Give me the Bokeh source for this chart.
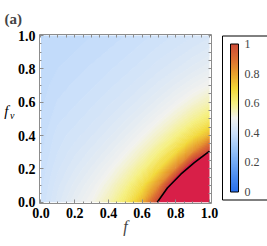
import numpy as np
from bokeh.plotting import figure
from bokeh.models import (LinearColorMapper, ColorBar, FixedTicker, Range1d,
                          LinearAxis, PrintfTickFormatter)
from bokeh.embed import file_html
from bokeh.resources import INLINE

# ---------------- data ----------------
F_GRID = [0.0, 0.1, 0.2, 0.3, 0.4, 0.5, 0.6, 0.7, 0.8, 0.9, 1.0]
FV_GRID = [0.0, 0.1, 0.2, 0.3, 0.4, 0.5, 0.6, 0.7, 0.8, 0.9, 1.0]
# rows: fv = 0.0 ... 1.0 ; columns: f = 0.0 ... 1.0 (values > 1 are clipped to red)
FIELD = [
    [0.400, 0.435, 0.469, 0.502, 0.553, 0.631, 0.767, 1.038, 1.300, 1.300, 1.300],
    [0.396, 0.427, 0.454, 0.482, 0.521, 0.580, 0.674, 0.839, 1.173, 1.300, 1.300],
    [0.392, 0.418, 0.439, 0.462, 0.491, 0.533, 0.595, 0.693, 0.860, 1.173, 1.300],
    [0.388, 0.410, 0.427, 0.444, 0.466, 0.496, 0.538, 0.600, 0.693, 0.839, 1.038],
    [0.384, 0.405, 0.415, 0.429, 0.446, 0.468, 0.498, 0.538, 0.595, 0.674, 0.767],
    [0.380, 0.397, 0.406, 0.416, 0.430, 0.447, 0.468, 0.496, 0.533, 0.580, 0.631],
    [0.377, 0.391, 0.398, 0.407, 0.417, 0.430, 0.446, 0.466, 0.491, 0.521, 0.553],
    [0.375, 0.385, 0.392, 0.398, 0.407, 0.416, 0.429, 0.444, 0.462, 0.482, 0.502],
    [0.373, 0.380, 0.385, 0.392, 0.398, 0.406, 0.415, 0.427, 0.439, 0.454, 0.469],
    [0.371, 0.376, 0.380, 0.385, 0.391, 0.397, 0.405, 0.414, 0.423, 0.434, 0.445],
    [0.369, 0.373, 0.376, 0.380, 0.384, 0.390, 0.396, 0.403, 0.411, 0.419, 0.427],
]
# level-1 contour (black line)
CONTOUR_F = [0.69, 0.75, 0.83, 0.91, 1.0]
CONTOUR_FV = [0.0, 0.085, 0.168, 0.237, 0.306]

AXIS_TICKS = [0.0, 0.2, 0.4, 0.6, 0.8, 1.0]
MINOR_TICKS = [0.05, 0.1, 0.15, 0.25, 0.3, 0.35, 0.45, 0.5, 0.55, 0.65, 0.7, 0.75, 0.85, 0.9, 0.95]
FRAME_TICKS = [0.0, 0.05, 0.1, 0.15, 0.2, 0.25, 0.3, 0.35, 0.4, 0.45, 0.5, 0.55, 0.6,
               0.65, 0.7, 0.75, 0.8, 0.85, 0.9, 0.95, 1.0]
CBAR_TICKS = [0.0, 0.2, 0.4, 0.6, 0.8, 1.0]
CBAR_LABELS = ["0", "0.2", "0.4", "0.6", "0.8", "1"]
X_LABEL = "f"
Y_LABEL_MAIN, Y_LABEL_SUB = "f", "v"
PANEL_TAG = "(a)"

# ---------------- colour map (temperature-like) ----------------
STOPS = [(0.0, (40, 110, 235)), (0.1, (75, 140, 240)), (0.2, (115, 170, 245)),
         (0.3, (160, 200, 248)), (0.4, (205, 225, 250)), (0.5, (242, 242, 238)),
         (0.6, (245, 240, 130)), (0.7, (242, 215, 55)), (0.8, (232, 160, 45)),
         (0.9, (220, 110, 50)), (1.0, (205, 75, 55))]
CLIP_RED = "#d81f48"
pos = np.array([s[0] for s in STOPS])
cols = np.array([s[1] for s in STOPS], dtype=float)

def color_at(v):
    if v > 1.0:
        return CLIP_RED
    return "#%02x%02x%02x" % tuple(int(round(np.interp(v, pos, cols[:, k]))) for k in range(3))

palette = [color_at(v) for v in np.linspace(0, 1, 256)]
mapper = LinearColorMapper(palette=palette, low=0.0, high=1.0, high_color=CLIP_RED)

SERIF = "Liberation Serif"
GRAY = "#8c8c8c"

p = figure(width=267, height=246, output_backend="svg", toolbar_location=None,
           x_range=Range1d(-0.0089, 1.0119), y_range=Range1d(-0.0077, 1.006),
           min_border_left=39, min_border_top=32, min_border_bottom=43, min_border_right=56)
p.grid.visible = False
p.outline_line_color = GRAY
p.background_fill_color = "white"

# panel tag "(a)" as the title
p.title.text = PANEL_TAG
p.title.align = "left"
p.title.offset = -35
p.title.standoff = 16
p.title.text_font = SERIF
p.title.text_font_style = "bold"
p.title.text_font_size = "15px"

# smooth density: filled bands drawn by Bokeh's contour from the grid
levels = [round(0.36 + 0.01 * i, 2) for i in range(65)] + [1.5]
fill_cols = [color_at((levels[i] + levels[i + 1]) / 2) for i in range(len(levels) - 1)]
line_cols = [color_at(min(lv, 1.0)) for lv in levels]
p.contour(F_GRID, FV_GRID, np.array(FIELD), levels, fill_color=fill_cols,
          line_color=line_cols, line_width=1.0)
p.line(CONTOUR_F, CONTOUR_FV, line_color="black", line_width=1.6)

def style_axis(ax, labels=True):
    ax.axis_line_color = None
    ax.major_tick_in = 4
    ax.major_tick_out = 0
    ax.minor_tick_in = 2
    ax.minor_tick_out = 0
    ax.major_tick_line_color = GRAY
    ax.minor_tick_line_color = GRAY
    if labels:
        ax.ticker = FixedTicker(ticks=AXIS_TICKS, minor_ticks=MINOR_TICKS)
        ax.formatter = PrintfTickFormatter(format="%.1f")
        ax.major_label_text_font = SERIF
        ax.major_label_text_font_style = "bold"
        ax.major_label_text_font_size = "14px"
        ax.major_label_text_color = "black"
        ax.major_label_standoff = 4
    else:
        ax.ticker = FixedTicker(ticks=[], minor_ticks=FRAME_TICKS)
        ax.minor_tick_in = 3

style_axis(p.xaxis[0])
style_axis(p.yaxis[0])
p.xaxis.axis_label = X_LABEL
p.xaxis.axis_label_text_font = SERIF
p.xaxis.axis_label_text_font_style = "italic"
p.xaxis.axis_label_text_font_size = "16px"
p.xaxis.axis_label_standoff = -3

top_ax = LinearAxis()
style_axis(top_ax, labels=False)
p.add_layout(top_ax, "above")
right_ax = LinearAxis()
style_axis(right_ax, labels=False)
p.add_layout(right_ax, "right")

# horizontal y label "f_v": two label-only axes stacked left of the main y axis
def label_axis(text, y_at, size, standoff):
    ax = LinearAxis(ticker=FixedTicker(ticks=[y_at]),
                    major_label_overrides={y_at: text})
    ax.axis_line_color = None
    ax.major_tick_line_color = None
    ax.minor_tick_line_color = None
    ax.major_tick_in = 0
    ax.major_tick_out = 0
    ax.major_label_standoff = standoff
    ax.major_label_text_font = SERIF
    ax.major_label_text_font_style = "italic"
    ax.major_label_text_font_size = size
    ax.major_label_text_color = "black"
    return ax

p.add_layout(label_axis(Y_LABEL_SUB, 0.52, "10px", 0), "left")
p.add_layout(label_axis(Y_LABEL_MAIN, 0.55, "15px", -1), "left")

cb = ColorBar(color_mapper=mapper, width=8, height=148, padding=8, margin=0,
              location=(183, 3.5),
              ticker=FixedTicker(ticks=CBAR_TICKS),
              major_label_overrides={tk: lb for tk, lb in zip(CBAR_TICKS, CBAR_LABELS)},
              major_label_text_font=SERIF, major_label_text_font_size="12px",
              major_tick_line_color=None, label_standoff=6,
              bar_line_color="black", bar_line_width=1,
              border_line_color="black", border_line_width=1)
p.add_layout(cb, "center")

open("out.html", "w").write(file_html(p, INLINE))
